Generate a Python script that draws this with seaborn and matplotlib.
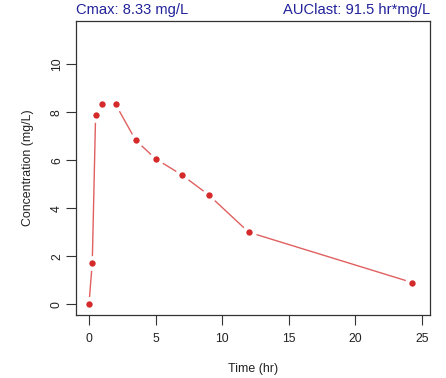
import matplotlib
matplotlib.use("Agg")
import matplotlib.pyplot as plt
import seaborn as sns
import pandas as pd

time_hr = [0, 0.25, 0.5, 1, 2, 3.5, 5, 7, 9, 12, 24.3]
conc_mgL = [0, 1.72, 7.89, 8.33, 8.33, 6.84, 6.06, 5.38, 4.55, 3.0, 0.9]
x_ticks = [0, 5, 10, 15, 20, 25]
y_ticks = [0, 2, 4, 6, 8, 10]
cmax_text = "Cmax: 8.33 mg/L"
auc_text = "AUClast: 91.5 hr*mg/L"

df = pd.DataFrame({"Time (hr)": time_hr, "Concentration (mg/L)": conc_mgL})

sns.set_theme(style="white")
plt.rcParams["font.family"] = ["Liberation Sans", "DejaVu Sans"]

fig = plt.figure(figsize=(4.46, 3.78), dpi=100)
ax = fig.add_axes([75.5 / 446, 63 / 378, (430 - 75.5) / 446, (315 - 21) / 378])

sns.lineplot(data=df, x="Time (hr)", y="Concentration (mg/L)", ax=ax,
             color="#e06060", linewidth=1.0, zorder=2)
sns.scatterplot(data=df, x="Time (hr)", y="Concentration (mg/L)", ax=ax,
                color="#d42a2a", s=58, edgecolor="white", linewidth=3.0, zorder=3)

ax.set_xlim(-1.01, 25.62)
ax.set_ylim(-0.45, 11.8)
ax.set_xticks(x_ticks)
ax.set_yticks(y_ticks)
ax.set_yticklabels([str(v) for v in y_ticks], rotation=90, va="center")
ax.tick_params(axis="both", direction="out", length=7, width=0.8, color="#333333",
               labelsize=8.8, labelcolor="#222222", left=True, bottom=True)
ax.tick_params(axis="y", pad=2)
ax.tick_params(axis="x", pad=6)
for s in ax.spines.values():
    s.set_color("#333333")
    s.set_linewidth(0.9)

ax.set_xlabel("Time (hr)", fontsize=8.9, color="#222222", labelpad=13)
ax.set_ylabel("Concentration (mg/L)", fontsize=8.9, color="#222222", labelpad=12)

ax.text(0, 1.013, cmax_text, transform=ax.transAxes, ha="left", va="bottom",
        fontsize=10.6, color="#22229a")
ax.text(1, 1.013, auc_text, transform=ax.transAxes, ha="right", va="bottom",
        fontsize=10.6, color="#22229a")

fig.savefig("out.png", dpi=100)
